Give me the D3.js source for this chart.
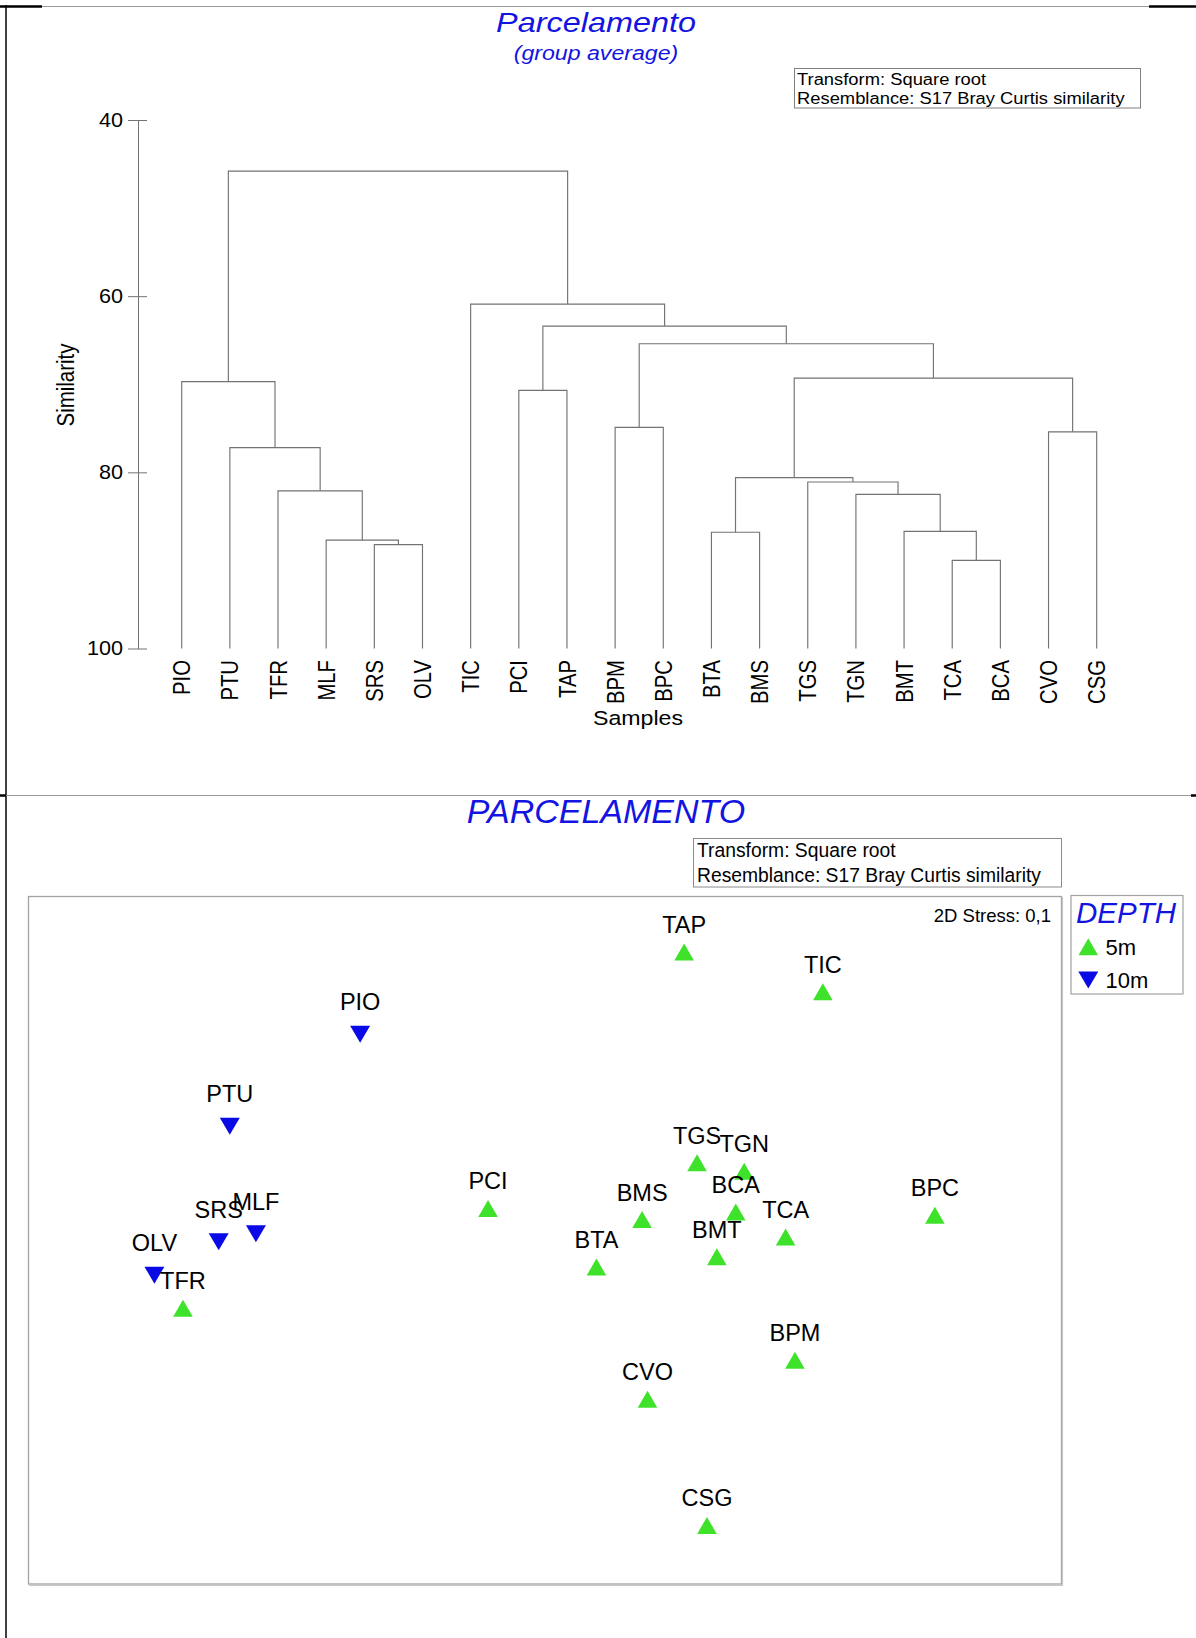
<!DOCTYPE html>
<html>
<head>
<meta charset="utf-8">
<script src="https://cdn.jsdelivr.net/npm/d3@7"></script>
<style>
  body { margin: 0; background: #fff; }
  svg { display: block; font-family: "Liberation Sans", Arial, sans-serif; }
</style>
</head>
<body>
<svg id="chart" width="1196" height="1638"></svg>
<script>
// ---------- Cluster analysis (group average) ----------
// Leaf order along the dendrogram
const samples = ["PIO","PTU","TFR","MLF","SRS","OLV","TIC","PCI","TAP","BPM",
                 "BPC","BTA","BMS","TGS","TGN","BMT","TCA","BCA","CVO","CSG"];

// Merge steps: [cluster id, left member, right member, similarity %]
const merges = [
  ["m1",  "TCA", "BCA", 90.0],
  ["m2",  "SRS", "OLV", 88.2],
  ["m3",  "MLF", "m2",  87.7],
  ["m4",  "BTA", "BMS", 86.8],
  ["m5",  "BMT", "m1",  86.7],
  ["m6",  "TGN", "m5",  82.5],
  ["m7",  "TFR", "m3",  82.1],
  ["m8",  "TGS", "m6",  81.1],
  ["m9",  "m4",  "m8",  80.6],
  ["m10", "PTU", "m7",  77.2],
  ["m11", "CVO", "CSG", 75.4],
  ["m12", "BPM", "BPC", 74.9],
  ["m13", "PCI", "TAP", 70.7],
  ["m14", "PIO", "m10", 69.7],
  ["m15", "m9",  "m11", 69.3],
  ["m16", "m12", "m15", 65.4],
  ["m17", "m13", "m16", 63.4],
  ["m18", "TIC", "m17", 60.9],
  ["m19", "m14", "m18", 45.8]
];

const similarityTicks = [40, 60, 80, 100];

// ---------- nMDS ordination ----------
const mdsNames = ["TAP","TIC","PIO","PTU","TGS","TGN","BCA","BMS","PCI","BPC",
                  "TCA","BMT","BTA","SRS","MLF","OLV","TFR","BPM","CVO","CSG"];
const mds1 = [0.465, 0.927, -0.614, -1.048, 0.508, 0.665, 0.637, 0.325, -0.188, 1.300,
              0.803, 0.574, 0.173, -1.085, -0.961, -1.299, -1.204, 0.834, 0.343, 0.541];
const mds2 = [0.959, 0.826, 0.685, 0.379, 0.257, 0.229, 0.093, 0.068, 0.105, 0.082,
              0.010, -0.056, -0.090, -0.006, 0.021, -0.117, -0.227, -0.400, -0.530, -0.950];
const depth = ["5m","5m","10m","10m","5m","5m","5m","5m","5m","5m",
               "5m","5m","5m","10m","10m","10m","5m","5m","5m","5m"];
const depthLevels = ["5m", "10m"];
const stressText = "2D Stress: 0,1";

const infoLines = ["Transform: Square root", "Resemblance: S17 Bray Curtis similarity"];

const BLUE_TITLE = "#1414e0";
const GREEN = "#3fe22a";
const BLUE = "#0a0ae6";
const LINE = "#737373";

const svg = d3.select("#chart");

// ---------- Frame ----------
const frame = svg.append("g");
frame.append("line").attr("x1", 42).attr("x2", 1149).attr("y1", 6.5).attr("y2", 6.5)
  .attr("stroke", "#9a9a9a").attr("stroke-width", 1);
frame.append("line").attr("x1", 0).attr("x2", 42).attr("y1", 6.5).attr("y2", 6.5)
  .attr("stroke", "#000").attr("stroke-width", 2.5);
frame.append("line").attr("x1", 1149).attr("x2", 1196).attr("y1", 6.5).attr("y2", 6.5)
  .attr("stroke", "#000").attr("stroke-width", 2.5);
frame.append("line").attr("x1", 6).attr("x2", 6).attr("y1", 5).attr("y2", 1638)
  .attr("stroke", "#000").attr("stroke-width", 1.5);
frame.append("line").attr("x1", 6).attr("x2", 1191).attr("y1", 795.5).attr("y2", 795.5)
  .attr("stroke", "#9a9a9a").attr("stroke-width", 1);
frame.append("line").attr("x1", 0).attr("x2", 6).attr("y1", 795.5).attr("y2", 795.5)
  .attr("stroke", "#000").attr("stroke-width", 2.5);
frame.append("line").attr("x1", 1191).attr("x2", 1196).attr("y1", 795.5).attr("y2", 795.5)
  .attr("stroke", "#000").attr("stroke-width", 2.5);

// ---------- Dendrogram panel ----------
const SX = 1.2; // horizontal text stretch of this panel
const gTop = svg.append("g");

gTop.append("text")
  .attr("transform", `translate(596,31.5) scale(${SX},1)`)
  .attr("text-anchor", "middle").attr("font-style", "italic")
  .attr("font-size", 27).attr("fill", BLUE_TITLE).text("Parcelamento");
gTop.append("text")
  .attr("transform", `translate(596,60) scale(${SX},1)`)
  .attr("text-anchor", "middle").attr("font-style", "italic")
  .attr("font-size", 19.3).attr("fill", BLUE_TITLE).text("(group average)");

gTop.append("rect").attr("x", 794.5).attr("y", 68.5).attr("width", 346).attr("height", 39.5)
  .attr("fill", "#fff").attr("stroke", "#808080").attr("stroke-width", 1);
infoLines.forEach((t, i) => {
  gTop.append("text")
    .attr("transform", `translate(797,${85 + i * 18.5}) scale(1.12,1)`)
    .attr("font-size", 16.4).attr("fill", "#000").text(t);
});

const x = d3.scalePoint().domain(samples).range([181.7, 1096.7]);
const y = d3.scaleLinear().domain([40, 100]).range([120, 648.5]);

// Axis with ticks crossing the line
const gAxis = gTop.append("g").attr("transform", "translate(138,0)")
  .call(d3.axisLeft(y).tickValues(similarityTicks).tickSize(10).tickSizeOuter(0).tickPadding(5));
gAxis.attr("font-family", "Liberation Sans, Arial, sans-serif").attr("font-size", 20);
gAxis.select(".domain").attr("stroke", LINE);
gAxis.selectAll(".tick line").attr("x1", 9).attr("stroke", LINE);
gAxis.selectAll(".tick text").attr("x", null).attr("fill", "#000")
  .attr("transform", "translate(-15,0) scale(1.08,1)");

gTop.append("text")
  .attr("transform", `translate(65,385) scale(${SX},1) rotate(-90)`)
  .attr("text-anchor", "middle").attr("dy", "0.35em")
  .attr("font-size", 20.5).attr("fill", "#000").text("Similarity");

// Branches
const pos = {};
samples.forEach(s => { pos[s] = { x: x(s), y: y(100) }; });
const branchPaths = merges.map(([id, a, b, s]) => {
  const A = pos[a], B = pos[b];
  const yy = y(s);
  pos[id] = { x: (A.x + B.x) / 2, y: yy };
  return `M${A.x},${A.y}V${yy}H${B.x}V${B.y}`;
});
gTop.append("g").selectAll("path").data(branchPaths).join("path")
  .attr("d", d => d).attr("fill", "none").attr("stroke", LINE).attr("stroke-width", 1.15);

// Leaf labels
gTop.append("g").selectAll("text").data(samples).join("text")
  .attr("transform", d => `translate(${x(d)},660) scale(${SX},1) rotate(-90)`)
  .attr("text-anchor", "end").attr("dy", "0.35em")
  .attr("font-size", 20.3).attr("fill", "#000").text(d => d);

gTop.append("text")
  .attr("transform", `translate(638,725) scale(${SX},1)`)
  .attr("text-anchor", "middle").attr("font-size", 19.3).attr("fill", "#000").text("Samples");

// ---------- MDS panel ----------
const gBot = svg.append("g");

gBot.append("text").attr("x", 606).attr("y", 823)
  .attr("text-anchor", "middle").attr("font-style", "italic")
  .attr("font-size", 34).attr("fill", BLUE_TITLE).text("PARCELAMENTO");

gBot.append("rect").attr("x", 693.5).attr("y", 838.5).attr("width", 368).attr("height", 48.5)
  .attr("fill", "#fff").attr("stroke", "#8a8a8a").attr("stroke-width", 1);
infoLines.forEach((t, i) => {
  gBot.append("text").attr("x", 697).attr("y", 857 + i * 24.5)
    .attr("font-size", 19.3).attr("fill", "#000").text(t);
});

const mx = d3.scaleLinear().domain([-1.72, 1.72]).range([28, 1061]);
const my = d3.scaleLinear().domain([-1.145, 1.145]).range([1584, 896]);

gBot.append("rect").attr("x", 28.5).attr("y", 896.5).attr("width", 1033).attr("height", 687.5)
  .attr("fill", "none").attr("stroke", "#a2a2a2").attr("stroke-width", 1.3);
gBot.append("path").attr("d", "M29,1585.5H1062.5V897")
  .attr("fill", "none").attr("stroke", "#c8c8c8").attr("stroke-width", 1.2);

gBot.append("text").attr("x", 1051).attr("y", 921.5).attr("text-anchor", "end")
  .attr("font-size", 18.5).attr("fill", "#000").text(stressText);

const upTri = "M0,-8.5L9.8,8.5L-9.8,8.5Z";
const downTri = "M-10,-8.5L10,-8.5L0,8.5Z";

const pts = mdsNames.map((n, i) => ({ name: n, a: mds1[i], b: mds2[i], depth: depth[i] }));

const gPts = gBot.append("g");
gPts.selectAll("path").data(pts).join("path")
  .attr("transform", d => `translate(${mx(d.a)},${my(d.b)})`)
  .attr("d", d => d.depth === "5m" ? upTri : downTri)
  .attr("fill", d => d.depth === "5m" ? GREEN : BLUE);
gPts.selectAll("text").data(pts).join("text")
  .attr("x", d => mx(d.a))
  .attr("y", d => my(d.b) - (d.depth === "5m" ? 19 : 24))
  .attr("text-anchor", "middle").attr("font-size", 23.5).attr("fill", "#000")
  .text(d => d.name);

// Legend
const leg = gBot.append("g");
leg.append("rect").attr("x", 1071).attr("y", 895.5).attr("width", 112).attr("height", 98.5)
  .attr("fill", "#fff").attr("stroke", "#a2a2a2").attr("stroke-width", 1.2);
leg.append("text").attr("x", 1076).attr("y", 923).attr("font-style", "italic")
  .attr("font-size", 29.5).attr("fill", BLUE_TITLE).text("DEPTH");
depthLevels.forEach((lv, i) => {
  const cy = 946.7 + i * 33.3;
  leg.append("path").attr("transform", `translate(1088.3,${cy})`)
    .attr("d", lv === "5m" ? upTri : downTri)
    .attr("fill", lv === "5m" ? GREEN : BLUE);
  leg.append("text").attr("x", 1105.5).attr("y", cy + 8.3)
    .attr("font-size", 22).attr("fill", "#000").text(lv);
});
</script>
</body>
</html>
